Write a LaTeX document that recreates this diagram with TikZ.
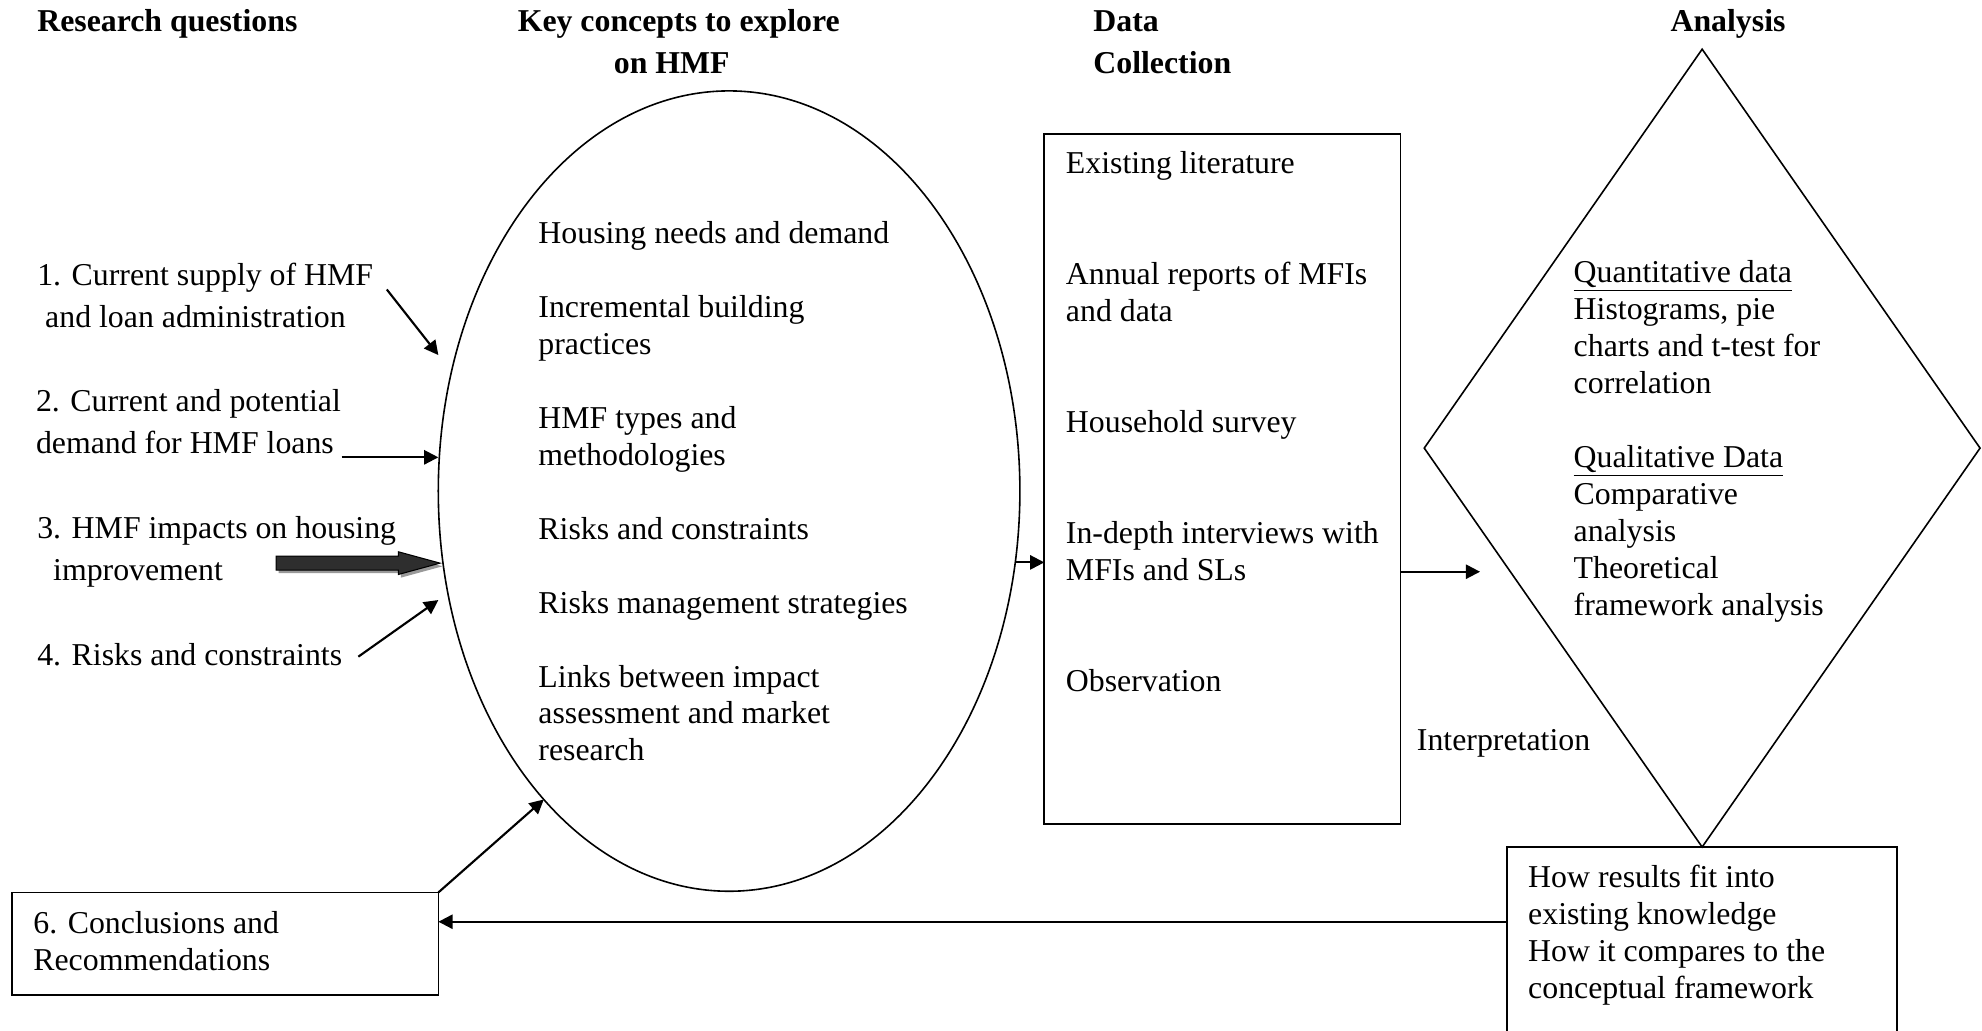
\documentclass[tikz,border=0pt]{standalone}
\usepackage{fontspec}
\setmainfont{Liberation Serif}
\usetikzlibrary{shapes.geometric,arrows.meta}
\begin{document}
\begin{tikzpicture}[x=0.025cm,y=-0.025cm,
  % text blocks are placed by the baseline of their last line
  txt/.style={anchor=base west,inner sep=0pt,outer sep=0pt,align=left,
    font=\fontsize{17.9pt}{20.8pt}\selectfont},
  qtxt/.style={txt,font=\fontsize{17.9pt}{23.7pt}\selectfont},
  head/.style={txt,font=\fontsize{17.9pt}{23.4pt}\selectfont\bfseries},
  frame/.style={draw,line width=1pt,inner sep=0pt,outer sep=0pt},
  arr/.style={line width=1.2pt,-{Triangle[length=8pt,width=8pt]}},
]
\useasboundingbox (0,0) rectangle (1568,815);
\clip (0,0) rectangle (1568,815);

% column headings
\node[head] (h1) at (29.5,25) {Research questions};
\node[head] (h2) at (409.6,58) {Key concepts to explore\\\hspace*{1.9cm}on HMF};
\node[head] (h3) at (865,58) {Data\\Collection};
\node[head] (h4) at (1321.6,25) {Analysis};

% main shapes
\node[frame,ellipse,line width=0.9pt,minimum width=11.5cm,minimum height=15.825cm] (keys) at (576.8,388.5) {};
\node[frame,minimum width=7.045cm,minimum height=13.65cm] (data) at (967.1,379) {};
\node[frame,diamond,line width=0.9pt,minimum width=10.99cm,minimum height=15.775cm] (ana) at (1346.6,354.5) {};
\node[frame,minimum width=7.725cm,minimum height=4cm] (res) at (1346.5,750) {};
\node[frame,minimum width=8.425cm,minimum height=2.03cm] (concl) at (178.3,746.6) {};

% research questions
\node[qtxt] (q1) at (29.5,259) {1. Current supply of HMF\\\hspace*{0.25em}and loan administration};
\node[qtxt] (q2) at (28.5,359) {2. Current and potential\\demand for HMF loans};
\node[qtxt] (q3) at (29.5,459.3) {3. HMF impacts on housing\\\hspace*{0.5em}improvement};
\node[qtxt] (q4) at (29.5,526.1) {4. Risks and constraints};

% contents of the shapes
\node[txt] (kt) at (426,602) {Housing needs and demand\\[20.8pt]Incremental building\\practices\\[20.8pt]HMF types and\\methodologies\\[20.8pt]Risks and constraints\\[20.8pt]Risks management strategies\\[20.8pt]Links between impact\\assessment and market\\research};
\node[txt] (dt) at (843.3,547) {Existing literature\\[41.6pt]Annual reports of MFIs\\and data\\[41.6pt]Household survey\\[41.6pt]In-depth interviews with\\MFIs and SLs\\[41.6pt]Observation};
\node[txt] (at) at (1245,487) {\underline{Quantitative data}\\Histograms, pie\\charts and t-test for\\correlation\\[20.8pt]\underline{Qualitative Data}\\Comparative\\analysis\\Theoretical\\framework analysis};
\node[txt] (rt) at (1209,789.7) {How results fit into\\existing knowledge\\How it compares to the\\conceptual framework};
\node[txt] (ct) at (26.4,767.4) {6. Conclusions and\\Recommendations};
\node[txt] (interp) at (1121,593.4) {Interpretation};

% arrows from the questions
\coordinate (a1s) at (306,229);
\coordinate (a1e) at (346.8,280.9);
\coordinate (a2s) at (270.3,361.8);
\coordinate (a2e) at (346.8,361.8);
\coordinate (a4s) at (283.5,519.5);
\coordinate (a4e) at (346.8,474.7);
\draw[arr] (a1s) -- (a1e);
\draw[arr] (a2s) -- (a2e);
\draw[arr] (a4s) -- (a4e);

% block arrow with drop shadow
\fill[black!40,shift={(2,2.5)}] (218.4,440) -- (315.1,440) -- (315.1,436.5) -- (348.1,445.5) -- (315.1,454.5) -- (315.1,451) -- (218.4,451) -- cycle;
\filldraw[fill=black!82,draw=black,line width=0.6pt] (218.4,440) -- (315.1,440) -- (315.1,436.5) -- (348.1,445.5) -- (315.1,454.5) -- (315.1,451) -- (218.4,451) -- cycle;

% flow between the stages
\coordinate (a5e) at (1170.9,452.3);
\coordinate (lvl) at (700,729.2);
\draw[arr] (keys.-14.2) -- (keys.-14.2 -| data.west);
\draw[arr] (data.east |- a5e) -- (a5e);
\draw[arr] (res.west |- lvl) -- (concl.east |- lvl);
\draw[arr] (concl.north east) -- (keys.239.6);
\end{tikzpicture}
\end{document}
